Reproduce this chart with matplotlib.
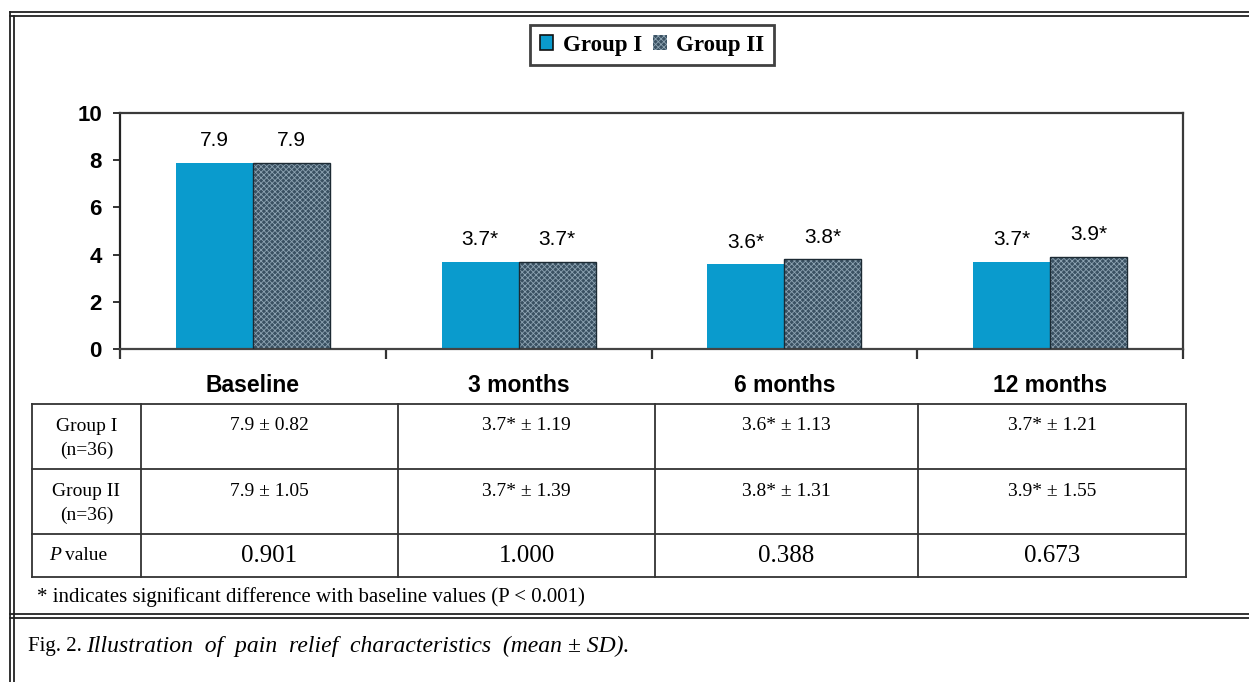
import matplotlib

matplotlib.use("Agg")
import matplotlib.pyplot as plt
from matplotlib.patches import Patch

# data
categories = ["Baseline", "3 months", "6 months", "12 months"]
group1 = [7.9, 3.7, 3.6, 3.7]
group2 = [7.9, 3.7, 3.8, 3.9]
sig = [False, True, True, True]
yticks = [0, 2, 4, 6, 8, 10]

row_labels = ["Group I\n(n=36)", "Group II\n(n=36)"]
g1_text = ["7.9 ± 0.82", "3.7* ± 1.19", "3.6* ± 1.13", "3.7* ± 1.21"]
g2_text = ["7.9 ± 1.05", "3.7* ± 1.39", "3.8* ± 1.31", "3.9* ± 1.55"]
p_values = ["0.901", "1.000", "0.388", "0.673"]

C1 = "#0a9bcd"
C2 = "#3a5162"
HATCH = "#8da3b2"
SERIF = "Liberation Serif"
SANS = "Liberation Sans"
plt.rcParams["hatch.linewidth"] = 0.6

W, H = 1249, 682
fig = plt.figure(figsize=(W / 100, H / 100), dpi=100)


def fx(px):
    return px / W


def fy(py):
    return 1 - py / H


# ---- bar chart ----
ax = fig.add_axes([fx(120), fy(349), fx(1183 - 120), (349 - 113) / H])
x = list(range(len(categories)))
bw = 0.29
x1 = [i - bw / 2 for i in x]
x2 = [i + bw / 2 for i in x]
ax.bar(x1, group1, width=bw, color=C1, edgecolor="none", zorder=2)
ax.bar(x2, group2, width=bw, color=C2, edgecolor=HATCH, hatch="xxxxxx",
       linewidth=0, zorder=2)
ax.bar(x2, group2, width=bw, fill=False, edgecolor="#1c2a33", linewidth=1.0,
       zorder=3)

for xs, vals in ((x1, group1), (x2, group2)):
    for xi, v, s in zip(xs, vals, sig):
        ax.annotate(f"{v:.1f}" + ("*" if s else ""), (xi, v),
                    xytext=(0, 9), textcoords="offset points",
                    ha="center", va="bottom", fontsize=15, family=SANS)

ax.set_xlim(-0.5, len(categories) - 0.5)
ax.set_ylim(0, 10)
ax.set_yticks(yticks)
ax.set_yticklabels([str(t) for t in yticks], fontsize=16, fontweight="bold",
                   family=SANS)
ax.set_xticks(x)
ax.set_xticklabels(categories, fontsize=16.5, fontweight="bold", family=SANS)
ax.tick_params(axis="x", length=0, pad=18)
ax.set_xticks([i - 0.5 for i in range(len(categories) + 1)], minor=True)
ax.tick_params(axis="x", which="minor", length=7, width=1.6, color="#333333")
ax.tick_params(axis="y", length=5, width=1.4, color="#333333", pad=8)
for sp in ax.spines.values():
    sp.set_linewidth(1.6)
    sp.set_color("#3a3a3a")
ax.spines["left"].set_color("#222222")
ax.spines["bottom"].set_color("#444444")

handles = [Patch(facecolor=C1, edgecolor="#111111", linewidth=1.2),
           Patch(facecolor=C2, edgecolor=HATCH, hatch="xxxxxx", linewidth=0)]
leg = fig.legend(handles, ["Group I", "Group II"], loc="center",
                 bbox_to_anchor=(fx(652), fy(45)), ncol=2, frameon=True,
                 fancybox=False, handlelength=0.6, handleheight=0.6,
                 handletextpad=0.4, columnspacing=0.5, borderpad=0.4,
                 borderaxespad=0,
                 prop={"family": SERIF, "weight": "bold", "size": 16.5})
leg.get_frame().set_edgecolor("#111111")
leg.get_frame().set_linewidth(2.0)

# ---- table ----
col_edges = [32, 141, 398, 655, 918, 1186]
row_edges = [404, 469, 534, 577]
tab = fig.add_axes([0, 0, 1, 1])
tab.set_xlim(0, W)
tab.set_ylim(H, 0)
tab.axis("off")
for c in col_edges:
    tab.plot([c, c], [row_edges[0], row_edges[-1]], color="#333333", lw=1.3)
for r in row_edges:
    tab.plot([col_edges[0], col_edges[-1]], [r, r], color="#333333", lw=1.3)

lab_x = (col_edges[0] + col_edges[1]) / 2
rows = [g1_text, g2_text]
for ri, (lab, vals) in enumerate(zip(row_labels, rows)):
    top, bot = row_edges[ri], row_edges[ri + 1]
    tab.text(lab_x, (top + bot) / 2 + 2, lab, ha="center", va="center",
             fontsize=14, family=SERIF, linespacing=1.5)
    for ci, v in enumerate(vals):
        tab.text((col_edges[ci + 1] + col_edges[ci + 2]) / 2, top + 22, v,
                 ha="center", va="center", fontsize=14, family=SERIF)
top, bot = row_edges[2], row_edges[3]
tab.text(61, (top + bot) / 2, "P", ha="right", va="center",
         fontsize=14, family=SERIF, style="italic")
tab.text(65, (top + bot) / 2, "value", ha="left", va="center",
         fontsize=14, family=SERIF)
for ci, v in enumerate(p_values):
    tab.text((col_edges[ci + 1] + col_edges[ci + 2]) / 2, (top + bot) / 2 + 1, v,
             ha="center", va="center", fontsize=18, family=SERIF)

tab.text(37, 597, "* indicates significant difference with baseline values (P < 0.001)",
         ha="left", va="center", fontsize=15, family=SERIF)

# ---- frame lines ----
for y in (12, 15.5):
    tab.plot([10, W], [y, y], color="#222222", lw=1.3)
for y in (614, 618):
    tab.plot([10, W], [y, y], color="#222222", lw=1.3)
for xx in (10, 14):
    tab.plot([xx, xx], [12 if xx == 10 else 15.5, H], color="#222222", lw=1.3)

tab.text(28, 646, "Fig. 2.", ha="left", va="center", fontsize=15, family=SERIF)
tab.text(86, 646, "Illustration  of  pain  relief  characteristics  (mean ± SD).",
         ha="left", va="center", fontsize=17, family=SERIF, style="italic")

fig.savefig("out.png", dpi=100)
